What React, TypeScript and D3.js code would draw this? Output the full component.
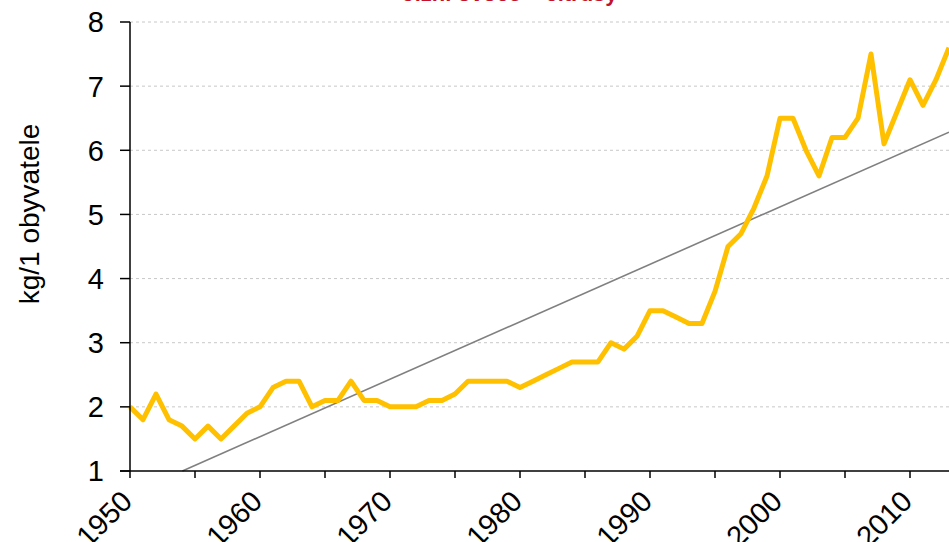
import React from "react";
import * as d3 from "d3";

const years: number[] = d3.range(1950, 2014);
const values: number[] = [
  2.0, 1.8, 2.2, 1.8, 1.7, 1.5, 1.7, 1.5, 1.7, 1.9,
  2.0, 2.3, 2.4, 2.4, 2.0, 2.1, 2.1, 2.4, 2.1, 2.1,
  2.0, 2.0, 2.0, 2.1, 2.1, 2.2, 2.4, 2.4, 2.4, 2.4,
  2.3, 2.4, 2.5, 2.6, 2.7, 2.7, 2.7, 3.0, 2.9, 3.1,
  3.5, 3.5, 3.4, 3.3, 3.3, 3.8, 4.5, 4.7, 5.1, 5.6,
  6.5, 6.5, 6.0, 5.6, 6.2, 6.2, 6.5, 7.5, 6.1, 6.6,
  7.1, 6.7, 7.1, 7.6,
];
const yTicks: number[] = [1, 2, 3, 4, 5, 6, 7, 8];
const xMinorTicks: number[] = d3.range(1950, 2014, 5);
const xLabels: number[] = [1950, 1960, 1970, 1980, 1990, 2000, 2010];
const title = "Jižní ovoce – citrusy";
const yTitle = "kg/1 obyvatele";

export default function App() {
  const W = 949, H = 542;
  const left = 130, right = 949, top = 22, bottom = 471;
  const x = d3.scaleLinear().domain([1950, 2013]).range([left, right]);
  const y = d3.scaleLinear().domain([1, 8]).range([bottom, top]);

  // linear regression trendline
  const n = years.length;
  const mx = d3.mean(years)!;
  const my = d3.mean(values)!;
  let sxy = 0, sxx = 0;
  for (let i = 0; i < n; i++) {
    sxy += (years[i] - mx) * (values[i] - my);
    sxx += (years[i] - mx) ** 2;
  }
  const slope = sxy / sxx;
  const icpt = my - slope * mx;
  const xStart = (1 - icpt) / slope;
  const trend: [number, number][] = [
    [Math.max(1950, xStart), icpt + slope * Math.max(1950, xStart)],
    [2013, icpt + slope * 2013],
  ];

  const line = d3
    .line<number>()
    .x((_, i) => x(years[i]))
    .y((d) => y(d));
  const tline = d3
    .line<[number, number]>()
    .x((d) => x(d[0]))
    .y((d) => y(d[1]));

  const font = "Arial, 'Liberation Sans', sans-serif";

  return (
    <svg
      width={W}
      height={H}
      style={{ position: "absolute", left: 0, top: 0, background: "#fff" }}
      fontFamily={font}
    >
      <text x={510} y={0.5} textAnchor="middle" fontSize={22} fontWeight="bold" fill="#C0142C">
        {title}
      </text>
      {yTicks.slice(1).map((t) => (
        <line key={t} x1={left} x2={right} y1={y(t)} y2={y(t)} stroke="#c8c8c8" strokeWidth={1} strokeDasharray="3,3" />
      ))}
      <path d={tline(trend)!} fill="none" stroke="#808080" strokeWidth={1.6} />
      <path d={line(values)!} fill="none" stroke="#FFC000" strokeWidth={5} strokeLinejoin="round" />
      {/* axes */}
      <line x1={left} x2={left} y1={top} y2={bottom} stroke="#000" strokeWidth={1.5} />
      <line x1={120} x2={right} y1={bottom} y2={bottom} stroke="#000" strokeWidth={1.5} />
      {yTicks.map((t) => (
        <g key={t}>
          <line x1={120} x2={left} y1={y(t)} y2={y(t)} stroke="#000" strokeWidth={1.5} />
          <text x={104} y={y(t)} dy="0.36em" textAnchor="end" fontSize={29} fill="#000">
            {t}
          </text>
        </g>
      ))}
      {xMinorTicks.map((t) => (
        <line key={t} x1={x(t)} x2={x(t)} y1={bottom} y2={bottom + 7} stroke="#000" strokeWidth={1.5} />
      ))}
      {xLabels.map((t) => (
        <text
          key={t}
          transform={`translate(${x(t) + 4},${bottom + 32}) rotate(-45)`}
          textAnchor="end"
          fontSize={29}
          fill="#000"
        >
          {t}
        </text>
      ))}
      <text
        transform={`translate(39,214) rotate(-90)`}
        textAnchor="middle"
        fontSize={28}
        fill="#000"
      >
        {yTitle}
      </text>
    </svg>
  );
}
